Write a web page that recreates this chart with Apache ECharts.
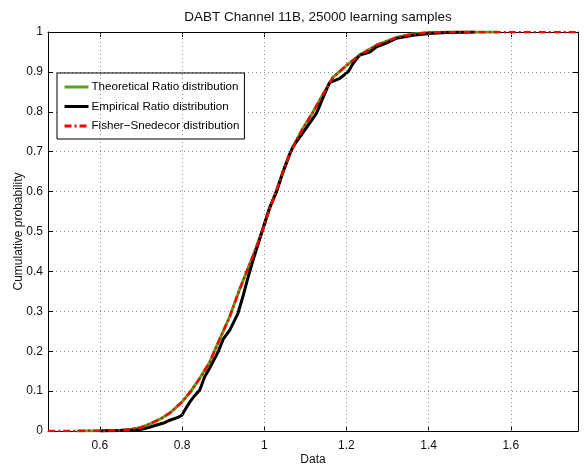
<!DOCTYPE html>
<html>
<head>
<meta charset="utf-8">
<script src="https://cdn.jsdelivr.net/npm/echarts@6/dist/echarts.min.js"></script>
<style>
html,body{margin:0;padding:0;background:#fff;}
#chart{width:586px;height:467px;}
</style>
</head>
<body>
<div id="chart"></div>
<script>
var titleText = 'DABT Channel 11B, 25000 learning samples';
var seriesNames = ['Theoretical Ratio distribution', 'Empirical Ratio distribution', 'Fisher\u2212Snedecor distribution'];
var xTicks = [0.6, 0.8, 1.0, 1.2, 1.4, 1.6];
var yTicks = [0, 0.1, 0.2, 0.3, 0.4, 0.5, 0.6, 0.7, 0.8, 0.9, 1];

var thX = [0.543, 0.60, 0.65, 0.675, 0.70, 0.722, 0.75, 0.77, 0.80, 0.82, 0.843, 0.867, 0.888, 0.916, 0.94, 0.957, 0.973, 0.993, 1.013, 1.03, 1.046, 1.062, 1.078, 1.094, 1.119, 1.143, 1.167, 1.2, 1.232, 1.273, 1.321, 1.362, 1.402, 1.45, 1.568];
var thY = [0, 0.0005, 0.002, 0.004, 0.009, 0.018, 0.032, 0.045, 0.073, 0.098, 0.132, 0.172, 0.222, 0.287, 0.355, 0.399, 0.44, 0.495, 0.557, 0.604, 0.652, 0.694, 0.728, 0.758, 0.8, 0.844, 0.886, 0.916, 0.942, 0.967, 0.986, 0.995, 0.999, 1.0, 1.0];

var emX = [0.60, 0.65, 0.697, 0.72, 0.738, 0.755, 0.77, 0.79, 0.80, 0.807, 0.819, 0.83, 0.843, 0.855, 0.867, 0.888, 0.90, 0.916, 0.936, 0.948, 0.961, 0.973, 0.993, 1.013, 1.03, 1.046, 1.062, 1.07, 1.102, 1.127, 1.151, 1.159, 1.184, 1.204, 1.216, 1.232, 1.257, 1.273, 1.297, 1.321, 1.362, 1.402, 1.443, 1.512];
var emY = [0, 0.001, 0.003, 0.009, 0.015, 0.02, 0.027, 0.034, 0.04, 0.053, 0.073, 0.088, 0.103, 0.136, 0.157, 0.199, 0.23, 0.253, 0.295, 0.337, 0.387, 0.429, 0.495, 0.56, 0.6, 0.65, 0.694, 0.713, 0.759, 0.796, 0.855, 0.873, 0.884, 0.9, 0.921, 0.942, 0.95, 0.963, 0.972, 0.984, 0.992, 0.996, 0.999, 1.0];

var fsX = [0.474, 0.60, 0.65, 0.675, 0.70, 0.722, 0.75, 0.77, 0.80, 0.82, 0.843, 0.867, 0.888, 0.916, 0.94, 0.957, 0.973, 0.993, 1.013, 1.03, 1.046, 1.062, 1.078, 1.094, 1.119, 1.143, 1.167, 1.2, 1.232, 1.273, 1.321, 1.362, 1.402, 1.45, 1.764];
var fsY = [0, 0.0005, 0.002, 0.004, 0.009, 0.018, 0.032, 0.045, 0.073, 0.098, 0.132, 0.172, 0.222, 0.287, 0.355, 0.399, 0.44, 0.495, 0.557, 0.604, 0.652, 0.694, 0.728, 0.758, 0.8, 0.844, 0.886, 0.916, 0.942, 0.967, 0.986, 0.995, 0.999, 1.0, 1.0];

function zip(xs, ys) { var o = []; for (var i = 0; i < xs.length; i++) o.push([xs[i], ys[i]]); return o; }

var X_MIN = 0.4736, X_MAX = 1.7636;
var FONT = 'Liberation Sans, Arial, sans-serif';
var gridLine = { color: '#8c8c8c', width: 1, type: [1, 3] };

var chart = echarts.init(document.getElementById('chart'), null, { renderer: 'canvas' });
chart.setOption({
  animation: false,
  backgroundColor: '#fff',
  textStyle: { fontFamily: FONT },
  title: {
    text: titleText, left: 313, top: 5, textAlign: 'center',
    textStyle: { fontSize: 13.5, fontWeight: 'normal', color: '#111', fontFamily: FONT }
  },
  grid: { left: 48, right: 8, top: 32, bottom: 36, show: false, containLabel: false, outerBoundsMode: 'none' },
  legend: {
    orient: 'vertical', left: 57, top: 73,
    padding: [8, 5, 7, 6], itemGap: 7.5, itemWidth: 24, itemHeight: 12,
    backgroundColor: '#fff', borderColor: '#000', borderWidth: 1, borderRadius: 0,
    itemStyle: { color: 'transparent', borderColor: 'transparent', borderWidth: 0, opacity: 0 },
    lineStyle: { width: 3 },
    textStyle: { fontSize: 11.6, color: '#000', fontFamily: FONT, padding: [0, 0, 0, -2] },
    data: seriesNames
  },
  xAxis: [{
    type: 'value', min: X_MIN, max: X_MAX, position: 'bottom',
    name: 'Data', nameLocation: 'middle', nameGap: 23, nameMoveOverlap: false,
    nameTextStyle: { fontSize: 12, color: '#111' },
    axisLine: { show: true, onZero: false, lineStyle: { color: '#000', width: 1 } },
    axisTick: { show: true, inside: true, length: 5, customValues: xTicks, lineStyle: { color: '#000' } },
    axisLabel: { show: true, customValues: xTicks, fontSize: 12, color: '#111', margin: 9,
      formatter: function (v) { return String(Math.round(v * 10) / 10); } },
    splitLine: { show: false }
  }, {
    type: 'value', min: X_MIN, max: X_MAX, position: 'top',
    axisLine: { show: true, onZero: false, lineStyle: { color: '#000', width: 1 } },
    axisTick: { show: true, inside: true, length: 5, customValues: xTicks, lineStyle: { color: '#000' } },
    axisLabel: { show: false },
    splitLine: { show: false }
  }],
  yAxis: [{
    type: 'value', min: 0, max: 1, interval: 0.1, position: 'left',
    name: 'Cumulative probability', nameLocation: 'middle', nameGap: 23, nameMoveOverlap: false,
    nameTextStyle: { fontSize: 12, color: '#111' },
    axisLine: { show: true, onZero: false, lineStyle: { color: '#000', width: 1 } },
    axisTick: { show: true, inside: true, length: 5, lineStyle: { color: '#000' } },
    axisLabel: { fontSize: 12, color: '#111', margin: 5,
      formatter: function (v) { return String(Math.round(v * 10) / 10); } },
    splitLine: { show: true, lineStyle: gridLine }
  }, {
    type: 'value', min: 0, max: 1, interval: 0.1, position: 'right',
    axisLine: { show: true, onZero: false, lineStyle: { color: '#000', width: 1 } },
    axisTick: { show: true, inside: true, length: 5, lineStyle: { color: '#000' } },
    axisLabel: { show: false },
    splitLine: { show: false }
  }],
  series: [{
    name: 'gridX', type: 'line', data: [], silent: true, z: 1,
    markLine: {
      silent: true, symbol: ['none', 'none'], label: { show: false },
      lineStyle: gridLine, animation: false,
      data: xTicks.map(function (v) { return { xAxis: v }; })
    }
  }, {
    name: seriesNames[0], type: 'line', data: zip(thX, thY), symbol: 'none', z: 3,
    lineStyle: { color: '#55a51c', width: 3 }, itemStyle: { color: '#55a51c' }
  }, {
    name: seriesNames[1], type: 'line', data: zip(emX, emY), symbol: 'none', z: 4,
    lineStyle: { color: '#000', width: 3 }, itemStyle: { color: '#000' }
  }, {
    name: seriesNames[2], type: 'line', data: zip(fsX, fsY), symbol: 'none', z: 5,
    lineStyle: { color: '#ff0000', width: 2.5, type: [7, 3, 2, 3] }, itemStyle: { color: '#ff0000' }
  }]
});
</script>
</body>
</html>
